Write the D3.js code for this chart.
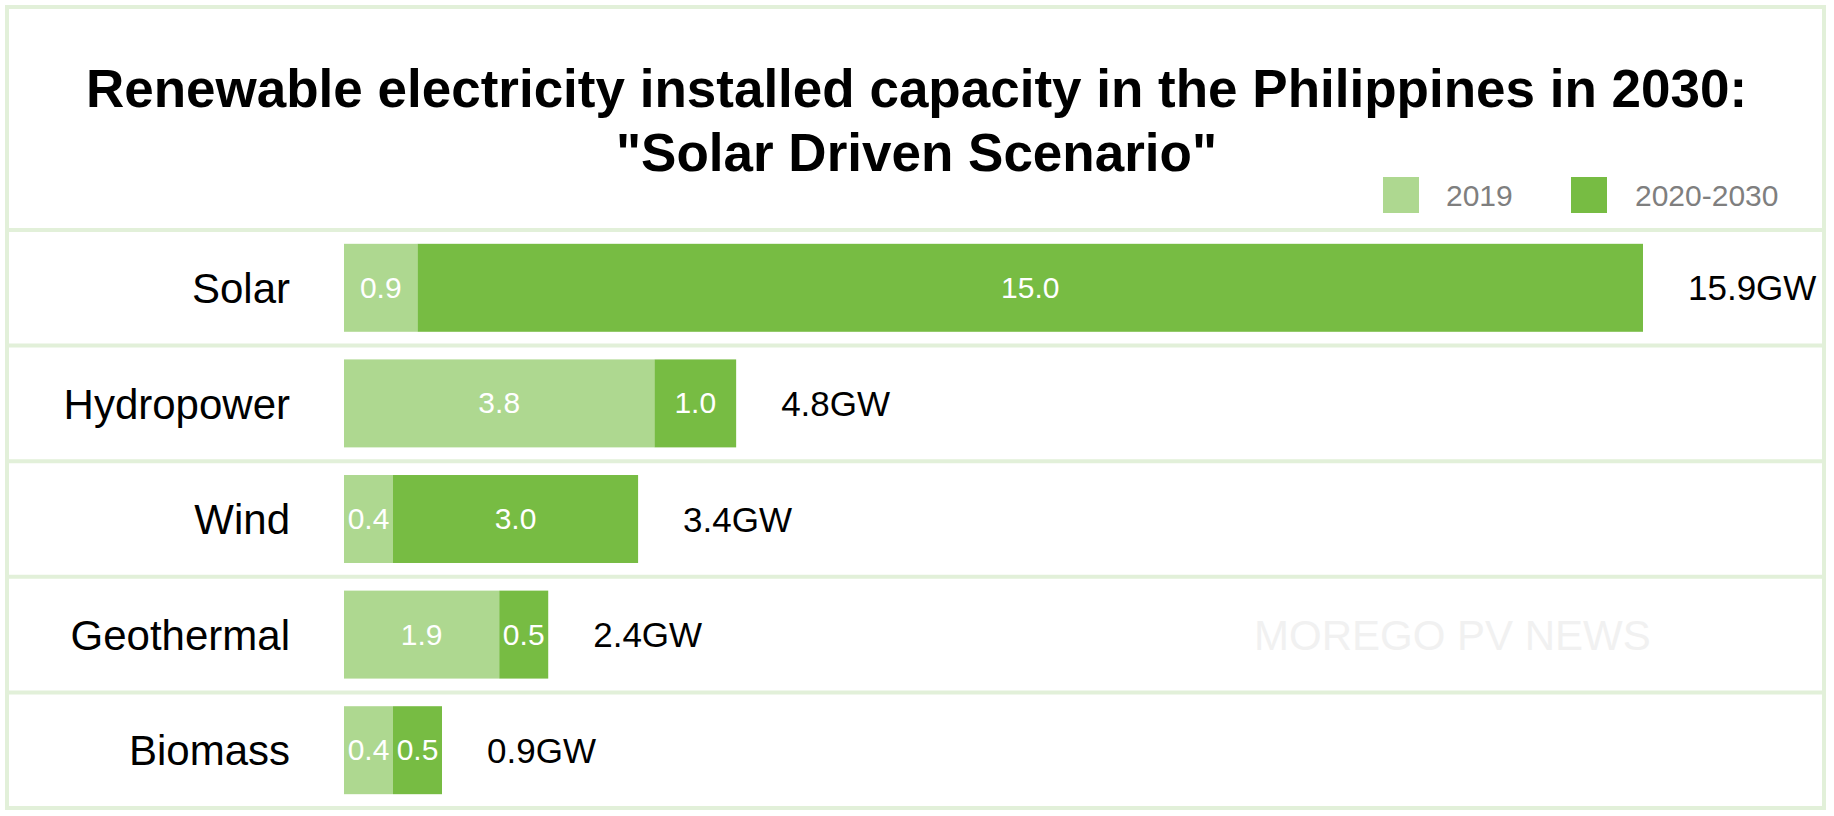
<!DOCTYPE html>
<html>
<head>
<meta charset="utf-8">
<script src="https://cdn.jsdelivr.net/npm/d3@7"></script>
<style>
  html, body { margin: 0; padding: 0; background: #ffffff; }
  svg { display: block; font-family: "Liberation Sans", Arial, sans-serif; }
</style>
</head>
<body>
<svg id="chart" width="1834" height="816"></svg>
<script>
// ---- Data ----
const titleLines = ["Renewable electricity installed capacity in the Philippines in 2030:", "\"Solar Driven Scenario\""];
const categories = ["Solar", "Hydropower", "Wind", "Geothermal", "Biomass"];
const seriesNames = ["2019", "2020-2030"];
const values2019 = [0.9, 3.8, 0.4, 1.9, 0.4];
const values2020to2030 = [15.0, 1.0, 3.0, 0.5, 0.5];
const totals = [15.9, 4.8, 3.4, 2.4, 0.9];
const totalUnit = "GW";
const seriesColors = ["#aed890", "#77bc43"];
const watermark = "MOREGO PV NEWS";

// ---- Layout ----
const W = 1834, H = 816;
const frame = { x0: 7, y0: 7, x1: 1824, y1: 808 };
const headerBottom = 230;
const gridColor = "#e2f0d9";
const minSegment = 49;

const svg = d3.select("#chart");

// scales
const x = d3.scaleLinear().domain([0, d3.max(totals)]).range([344, 1643]);
const rows = d3.scaleBand().domain(categories).range([headerBottom, frame.y1]).padding(0);
const y = d3.scaleBand().domain(categories).range([headerBottom, frame.y1])
  .paddingInner(0.239).paddingOuter(0.1195);
const color = d3.scaleOrdinal().domain(seriesNames).range(seriesColors);

// frame
svg.append("rect")
  .attr("x", frame.x0).attr("y", frame.y0)
  .attr("width", frame.x1 - frame.x0).attr("height", frame.y1 - frame.y0)
  .attr("fill", "none").attr("stroke", gridColor).attr("stroke-width", 4);

// row separators
const sepYs = [headerBottom].concat(categories.map(c => rows(c) + rows.bandwidth()));
svg.append("g").selectAll("line").data(sepYs).join("line")
  .attr("x1", frame.x0).attr("x2", frame.x1)
  .attr("y1", d => d).attr("y2", d => d)
  .attr("stroke", gridColor).attr("stroke-width", 4);

// watermark
svg.append("text")
  .attr("x", 1254).attr("y", 650)
  .attr("font-size", 42).attr("fill", "#f1f1f1")
  .text(watermark);

// title
svg.append("g").selectAll("text").data(titleLines).join("text")
  .attr("x", (frame.x0 + frame.x1) / 2 + 1)
  .attr("y", (d, i) => 107 + i * 64)
  .attr("text-anchor", "middle")
  .attr("font-size", 53).attr("font-weight", "bold").attr("fill", "#000")
  .text(d => d);

// legend
const legendItems = [{ name: seriesNames[0], sx: 1383, tx: 1446 }, { name: seriesNames[1], sx: 1571, tx: 1635 }];
const lg = svg.append("g");
lg.selectAll("rect").data(legendItems).join("rect")
  .attr("x", d => d.sx).attr("y", 177).attr("width", 36).attr("height", 36)
  .attr("fill", d => color(d.name));
lg.selectAll("text").data(legendItems).join("text")
  .attr("x", d => d.tx).attr("y", 206)
  .attr("font-size", 30).attr("fill", "#7f7f7f")
  .text(d => d.name);

// stacked segments
const segW = v => Math.max(minSegment, x(v) - x(0));
const data = categories.map((c, i) => {
  const vals = [values2019[i], values2020to2030[i]];
  let cur = x(0);
  const segs = vals.map((v, j) => {
    const w = segW(v);
    const s = { cat: c, series: seriesNames[j], value: v, x0: cur, w: w };
    cur += w;
    return s;
  });
  return { cat: c, total: totals[i], segs: segs, end: cur };
});

const barG = svg.append("g");
const rowG = barG.selectAll("g").data(data).join("g");

rowG.selectAll("rect").data(d => d.segs).join("rect")
  .attr("x", d => d.x0).attr("y", d => y(d.cat))
  .attr("width", d => d.w).attr("height", y.bandwidth())
  .attr("fill", d => color(d.series));

rowG.selectAll("text.val").data(d => d.segs).join("text")
  .attr("class", "val")
  .attr("x", d => d.x0 + d.w / 2)
  .attr("y", d => y(d.cat) + y.bandwidth() / 2)
  .attr("dy", "0.33em")
  .attr("text-anchor", "middle")
  .attr("font-size", 30).attr("fill", "#ffffff")
  .text(d => d3.format(".1f")(d.value));

// totals
rowG.append("text")
  .attr("x", d => d.end + 45)
  .attr("y", d => y(d.cat) + y.bandwidth() / 2)
  .attr("dy", "0.36em")
  .attr("font-size", 35).attr("fill", "#000")
  .text(d => d3.format(".1f")(d.total) + totalUnit);

// category labels
svg.append("g").selectAll("text").data(categories).join("text")
  .attr("x", 290)
  .attr("y", d => rows(d) + rows.bandwidth() / 2)
  .attr("dy", "0.36em")
  .attr("text-anchor", "end")
  .attr("font-size", 42).attr("fill", "#000")
  .text(d => d);
</script>
</body>
</html>
